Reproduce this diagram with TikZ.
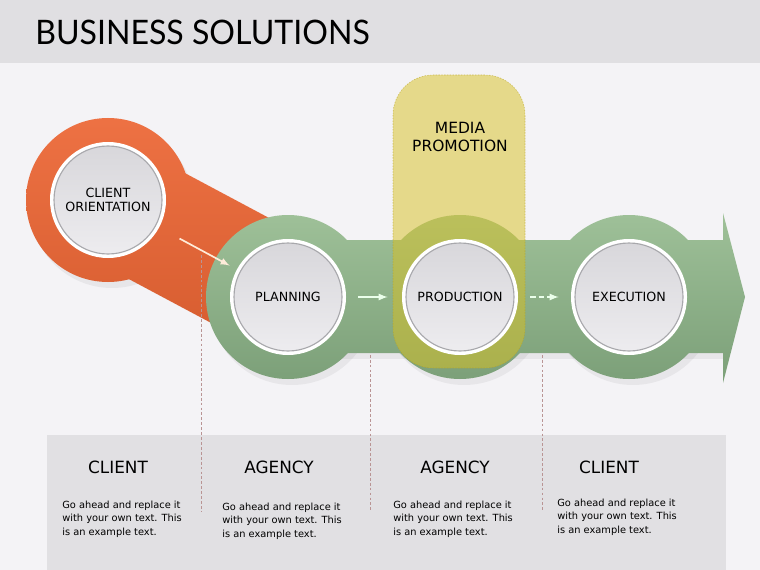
\documentclass[tikz,border=0pt]{standalone}
\usepackage{xcolor}
\usepackage{tikz}
\usepackage{fontspec}
\setmainfont{DejaVu Sans}
\newfontfamily\titlefont[FakeStretch=0.95]{Lato}

\definecolor{headgray}{HTML}{E0DFE2}
\definecolor{backgray}{HTML}{F4F3F6}
\definecolor{boxgray}{HTML}{E1E0E3}
\definecolor{orangetop}{HTML}{EE7244}
\definecolor{orangebot}{HTML}{D55B2E}
\definecolor{greentop}{HTML}{9FC199}
\definecolor{greenbot}{HTML}{7A9E77}
\definecolor{mediayellow}{HTML}{D8C020}
\definecolor{guideline}{HTML}{B99494}
\definecolor{discgray}{HTML}{A8A8AC}
\definecolor{disctop}{HTML}{D8D7DB}
\definecolor{discbot}{HTML}{EDECEF}

% fills that run over every piece of one band
\newcommand{\orangefill}{\shade[top color=orangetop,bottom color=orangebot] (20,110) rectangle (320,360);}
\newcommand{\greenfill}{\shade[top color=greentop,bottom color=greenbot] (200,210) rectangle (750,390);}
\newcommand{\stagedisc}[2]{%
  \fill[white] (#1,#2) circle (58);
  \shade[top color=disctop,bottom color=discbot,draw=discgray,line width=0.8pt] (#1,#2) circle (54);}

\begin{document}
\begin{tikzpicture}[x=0.025cm,y=-0.025cm,
    stagelabel/.style={circle,minimum size=2.9cm,align=center,font=\fontsize{9}{10}\selectfont},
    rolelabel/.style={font=\fontsize{12}{14}\selectfont},
    notetext/.style={anchor=west,align=left,inner sep=0pt,font=\fontsize{7}{9.6}\selectfont},
    flow/.style={draw=#1,line width=1.2pt,-latex},
    guide/.style={draw=guideline,line width=0.4pt,dash pattern=on 2pt off 1.5pt},
    shadow/.style={fill=black,opacity=0.05}]

    % Canvas
    \useasboundingbox (0,0) rectangle (760,570);
    \fill[backgray] (0,0) rectangle (760,570);
    \fill[headgray] (0,0) rectangle (760,63);
    \node[anchor=base west,inner sep=0pt,font=\titlefont\fontsize{24}{28}\selectfont] (title) at (35,45) {BUSINESS SOLUTIONS};

    % Notes box
    \fill[boxgray] (47,435) rectangle (726,570);

    % Soft shadows
    \fill[shadow] (112,206) circle (82);
    \fill[shadow] (292,246) -- (723,246) -- (723,359) -- (292,359) -- cycle;
    \fill[shadow] (292,303) circle (82);
    \fill[shadow] (464,303) circle (82);
    \fill[shadow] (633,303) circle (82);

    % Orange stage
    \begin{scope}\clip (108,200) circle (82); \orangefill\end{scope}
    \begin{scope}\clip (136,147) -- (316,243) -- (260,349) -- (80,253) -- cycle; \orangefill\end{scope}

    % Guide lines
    \draw[guide] (201,255) -- (201,512);
    \draw[guide] (370,340) -- (370,512);
    \draw[guide] (542,340) -- (542,510);

    % Green arrow
    \begin{scope}\clip (288,240) -- (723,240) -- (723,213) -- (745,297) -- (723,383) -- (723,353) -- (288,353) -- cycle; \greenfill\end{scope}
    \begin{scope}\clip (288,297) circle (82); \greenfill\end{scope}
    \begin{scope}\clip (460,297) circle (82); \greenfill\end{scope}
    \begin{scope}\clip (629,297) circle (82); \greenfill\end{scope}

    % Media promotion
    \draw[fill=mediayellow,fill opacity=0.5,draw=mediayellow!85!black,draw opacity=0.6,
          dash pattern=on 1pt off 1pt,rounded corners=1cm] (393,75) rectangle (525,368);
    \node[font=\fontsize{11}{12.8}\selectfont,align=center] (media) at (460,137) {MEDIA\\PROMOTION};

    % Stage discs
    \stagedisc{108}{200}
    \stagedisc{288}{297}
    \stagedisc{460}{297}
    \stagedisc{629}{297}

    \node[stagelabel] (orient) at (108,200) {CLIENT\\ORIENTATION};
    \node[stagelabel] (plan) at (288,297) {PLANNING};
    \node[stagelabel] (prod) at (460,297) {PRODUCTION};
    \node[stagelabel] (exec) at (629,297) {EXECUTION};

    % Flow between stages
    \draw[flow=orange!15!white,shorten <=0.575cm,shorten >=0.2cm] (orient) -- (plan);
    \draw[flow=green!8!white,shorten <=0.3cm,shorten >=0.35cm] (plan) -- (prod);
    \draw[flow=green!8!white,dash pattern=on 4pt off 2pt,shorten <=0.3cm,shorten >=0.3cm] (prod) -- (exec);

    % Roles
    \node[rolelabel] (roleA) at (118,467) {CLIENT};
    \node[rolelabel] (roleB) at (279,467) {AGENCY};
    \node[rolelabel] (roleC) at (455,467) {AGENCY};
    \node[rolelabel] (roleD) at (609,467) {CLIENT};

    \node[notetext] (noteA) at (62,519) {Go ahead and replace it\\with your own text. This\\is an example text.};
    \node[notetext] (noteB) at (222,521) {Go ahead and replace it\\with your own text. This\\is an example text.};
    \node[notetext] (noteC) at (393,519) {Go ahead and replace it\\with your own text. This\\is an example text.};
    \node[notetext] (noteD) at (557,517) {Go ahead and replace it\\with your own text. This\\is an example text.};
\end{tikzpicture}
\end{document}
